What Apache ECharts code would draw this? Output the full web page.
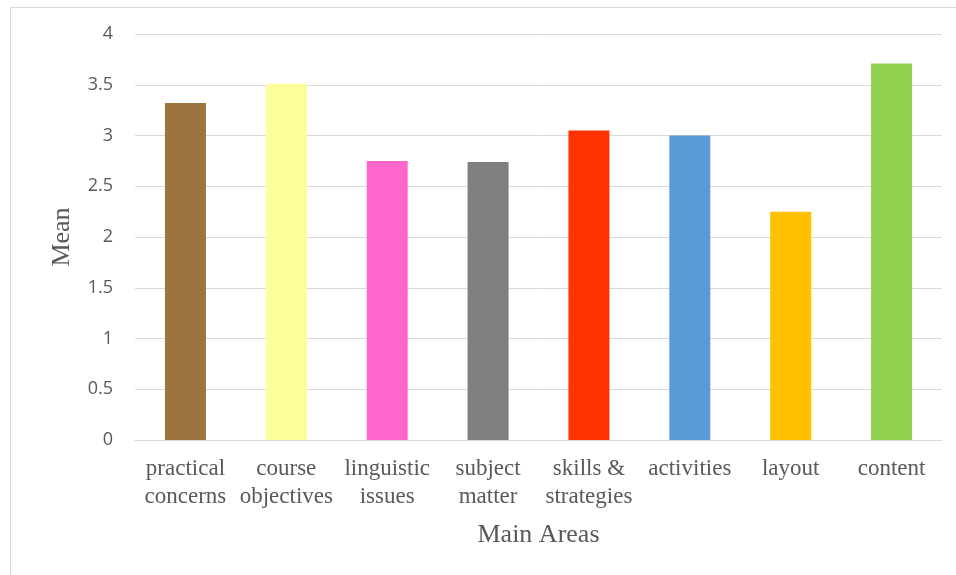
<!DOCTYPE html>
<html>
<head>
<meta charset="utf-8">
<script src="https://cdn.jsdelivr.net/npm/echarts@6/dist/echarts.min.js"></script>
<style>
  html, body { margin: 0; padding: 0; background: #fff; }
  #chart { width: 956px; height: 575px; }
</style>
</head>
<body>
<div id="chart"></div>
<script>
  // 类别与数值
  var areas = ['practical\nconcerns', 'course\nobjectives', 'linguistic\nissues', 'subject\nmatter',
    'skills &\nstrategies', 'activities', 'layout', 'content'];
  var means = [3.32, 3.51, 2.75, 2.74, 3.05, 3.0, 2.25, 3.71];
  var barColors = ['#9C743D', '#FDFE99', '#FF66CC', '#7F7F7F', '#FF3300', '#5B9BD5', '#FFC000', '#92D050'];
  var yTicks = [0, 0.5, 1, 1.5, 2, 2.5, 3, 3.5, 4];

  var chart = echarts.init(document.getElementById('chart'));
  var option = {
    animation: false,
    graphic: [{
      type: 'rect',
      shape: { x: 10.5, y: 7.5, width: 960, height: 600 },
      style: { fill: 'none', stroke: '#d9d9d9', lineWidth: 1 }
    }],
    grid: {
      left: 135,
      right: 14,
      top: 34,
      bottom: 135
    },
    xAxis: {
      type: 'category',
      data: areas,
      name: 'Main Areas',
      nameLocation: 'middle',
      nameGap: 82,
      nameTextStyle: {
        fontFamily: 'Liberation Serif',
        fontSize: 26,
        color: '#595959'
      },
      axisLine: { lineStyle: { color: '#d9d9d9', width: 1 } },
      axisTick: { show: false },
      axisLabel: {
        interval: 0,
        margin: 15,
        fontFamily: 'Liberation Serif',
        fontSize: 23,
        lineHeight: 28,
        color: '#595959'
      }
    },
    yAxis: {
      type: 'value',
      min: yTicks[0],
      max: yTicks[yTicks.length - 1],
      interval: 0.5,
      name: 'Mean',
      nameLocation: 'middle',
      nameRotate: 90,
      nameGap: 60,
      nameTextStyle: {
        fontFamily: 'Liberation Serif',
        fontSize: 26,
        color: '#595959'
      },
      axisLine: { show: false },
      axisTick: { show: false },
      axisLabel: {
        margin: 22,
        fontFamily: 'Open Sans',
        fontSize: 18,
        color: '#595959'
      },
      splitLine: { lineStyle: { color: '#d9d9d9', width: 1 } }
    },
    series: [{
      type: 'bar',
      barWidth: 41,
      data: means.map(function (v, i) {
        return { value: v, itemStyle: { color: barColors[i] } };
      })
    }]
  };
  chart.setOption(option);
</script>
</body>
</html>
